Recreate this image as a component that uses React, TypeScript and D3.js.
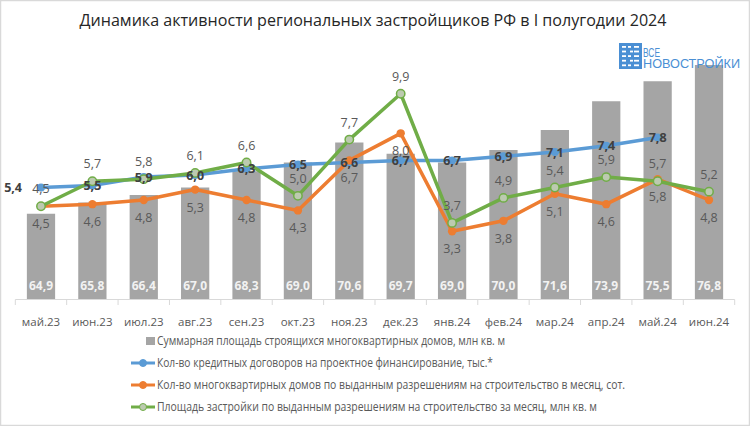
import React from "react";
import * as d3 from "d3";

const categories = ["май.23","июн.23","июл.23","авг.23","сен.23","окт.23","ноя.23","дек.23","янв.24","фев.24","мар.24","апр.24","май.24","июн.24"];
const areaValues = [64.9,65.8,66.4,67.0,68.3,69.0,70.6,69.7,69.0,70.0,71.6,73.9,75.5,76.8];
const loanValues: (number | null)[] = [5.4,5.5,5.9,6.0,6.3,6.5,6.6,6.7,6.7,6.9,7.1,7.4,7.8,null];
const houseValues = [4.5,4.6,4.8,5.3,4.8,4.3,6.7,8.0,3.3,3.8,5.1,4.6,5.8,4.8];
const permitAreaValues = [4.5,5.7,5.8,6.1,6.6,5.0,7.7,9.9,3.7,4.9,5.4,5.9,5.7,5.2];

const legendLabels = [
  "Суммарная площадь строящихся многоквартирных домов, млн кв. м",
  "Кол-во кредитных договоров на проектное финансирование, тыс.*",
  "Кол-во многоквартирных домов по выданным разрешениям на строительство в месяц, сот.",
  "Площадь застройки по выданным разрешениям на строительство за месяц, млн кв. м",
];
const legendWidths = [348, 336, 468, 440];

const W = 750, H = 426;
const FONT = "'Open Sans', 'Noto Sans', sans-serif";
const BLUE = "#5b9bd5", ORANGE = "#ed7d31", GREEN = "#70ad47", GRAY = "#a5a5a5";
const GREEN_FILL = "#bccab0";

const fmt = (v: number) => v.toFixed(1).replace(".", ",");

export default function App() {
  const x = d3.scaleBand<string>().domain(categories).range([15.3, 734.7]).paddingInner(0.45).paddingOuter(0.225);
  const yBar = d3.scaleLinear().domain([58, 78]).range([300, 50]);
  const yLine = d3.scaleLinear().domain([0, 12]).range([300, 50]);
  const cx = (i: number) => (x(categories[i]) as number) + x.bandwidth() / 2;
  const step = x.step();

  const line = d3.line<number | null>()
    .defined((d) => d != null)
    .x((_, i) => cx(i))
    .y((d) => yLine(d as number));

  const tickXs = d3.range(categories.length + 1).map((i) => 15.3 + i * step);

  return (
    <svg width={W} height={H} style={{ position: "absolute", left: 0, top: 0, background: "#fff" }} fontFamily={FONT}>
      <rect x={0.5} y={0.5} width={W - 1} height={H - 1} fill="#fff" stroke="#d9d9d9" strokeWidth={1.5} />
      <text x={373} y={26} textAnchor="middle" fontSize={17} fill="#262626" textLength={587} lengthAdjust="spacingAndGlyphs">
        Динамика активности региональных застройщиков РФ в I полугодии 2024
      </text>

      {/* bars */}
      {areaValues.map((v, i) => (
        <rect key={"b" + i} x={x(categories[i])} y={yBar(v)} width={x.bandwidth()} height={yBar(58) - yBar(v)} fill={GRAY} />
      ))}
      {areaValues.map((v, i) => (
        <text key={"bl" + i} x={cx(i)} y={290} textAnchor="middle" fontSize={12} fontWeight="bold" fill="#f2f2f2">
          {fmt(v)}
        </text>
      ))}

      {/* axis */}
      <line x1={15.3} x2={734.7} y1={299.5} y2={299.5} stroke="#d9d9d9" />
      {tickXs.map((t, i) => (
        <line key={"t" + i} x1={t} x2={t} y1={299.5} y2={305} stroke="#d9d9d9" />
      ))}
      {categories.map((c, i) => (
        <text key={"c" + i} x={cx(i)} y={326} textAnchor="middle" fontSize={11.5} fill="#595959">{c}</text>
      ))}

      {/* logo */}
      <g>
        <rect x={619} y={43} width={23} height={26} fill="#4a8fd4" />
        {d3.range(5).map((r) => (
          <g key={"lg" + r}>
            <rect x={622} y={46 + r * 4.6} width={4} height={1.8} fill="#fff" />
            <rect x={628 + (r % 2) * 2} y={46 + r * 4.6} width={3} height={1.8} fill="#fff" />
            <rect x={634} y={46 + r * 4.6} width={5} height={1.8} fill="#fff" />
          </g>
        ))}
        <text x={643} y={57} fontSize={12.5} fill="#4a8fd4" fontFamily="'Liberation Sans', Arial, sans-serif" textLength={17} lengthAdjust="spacingAndGlyphs">ВСЕ</text>
        <text x={643} y={68} fontSize={13.5} fill="#4a8fd4" fontFamily="'Liberation Sans', Arial, sans-serif" textLength={97} lengthAdjust="spacingAndGlyphs">НОВОСТРОЙКИ</text>
      </g>

      {/* lines */}
      <path d={line(loanValues) || ""} fill="none" stroke={BLUE} strokeWidth={3.5} strokeLinejoin="round" strokeLinecap="round" />
      <path d={line(houseValues) || ""} fill="none" stroke={ORANGE} strokeWidth={3.5} strokeLinejoin="round" strokeLinecap="round" />
      <path d={line(permitAreaValues) || ""} fill="none" stroke={GREEN} strokeWidth={3.5} strokeLinejoin="round" strokeLinecap="round" />

      {loanValues.map((v, i) => v == null ? null : (
        <circle key={"bm" + i} cx={cx(i)} cy={yLine(v)} r={4} fill={BLUE} />
      ))}
      {houseValues.map((v, i) => (
        <circle key={"om" + i} cx={cx(i)} cy={yLine(v)} r={4.2} fill={ORANGE} />
      ))}
      {permitAreaValues.map((v, i) => (
        <circle key={"gm" + i} cx={cx(i)} cy={yLine(v)} r={4.2} fill={GREEN_FILL} stroke={GREEN} strokeWidth={1.5} />
      ))}

      {/* labels */}
      {houseValues.map((v, i) => (
        <text key={"ol" + i} x={cx(i)} y={yLine(v) + 22} textAnchor="middle" fontSize={12.5} fill="#595959">{fmt(v)}</text>
      ))}
      {permitAreaValues.map((v, i) => (
        <text key={"gl" + i} x={cx(i)} y={yLine(v) - 13} textAnchor="middle" fontSize={12.5} fill="#595959">{fmt(v)}</text>
      ))}
      {loanValues.map((v, i) => v == null ? null : (
        <text key={"blb" + i} x={i === 0 ? cx(i) - 19 : cx(i)} y={yLine(v) + 4.5} textAnchor={i === 0 ? "end" : "middle"} fontSize={12.5} fontWeight="bold" fill="#404040">{fmt(v)}</text>
      ))}

      {/* legend */}
      {legendLabels.map((l, i) => {
        const yy = 341 + i * 22;
        return (
          <g key={"lg" + i}>
            {i === 0 ? (
              <rect x={146} y={yy - 4} width={9} height={8} fill={GRAY} />
            ) : (
              <g>
                <line x1={131} x2={155} y1={yy} y2={yy} stroke={[BLUE, ORANGE, GREEN][i - 1]} strokeWidth={3} />
                <circle cx={143} cy={yy} r={3.5} fill={i === 3 ? GREEN_FILL : [BLUE, ORANGE, GREEN][i - 1]} stroke={[BLUE, ORANGE, GREEN][i - 1]} strokeWidth={1} />
              </g>
            )}
            <text x={157} y={yy + 4} fontSize={12} fill="#595959" textLength={legendWidths[i]} lengthAdjust="spacingAndGlyphs">{l}</text>
          </g>
        );
      })}
    </svg>
  );
}
